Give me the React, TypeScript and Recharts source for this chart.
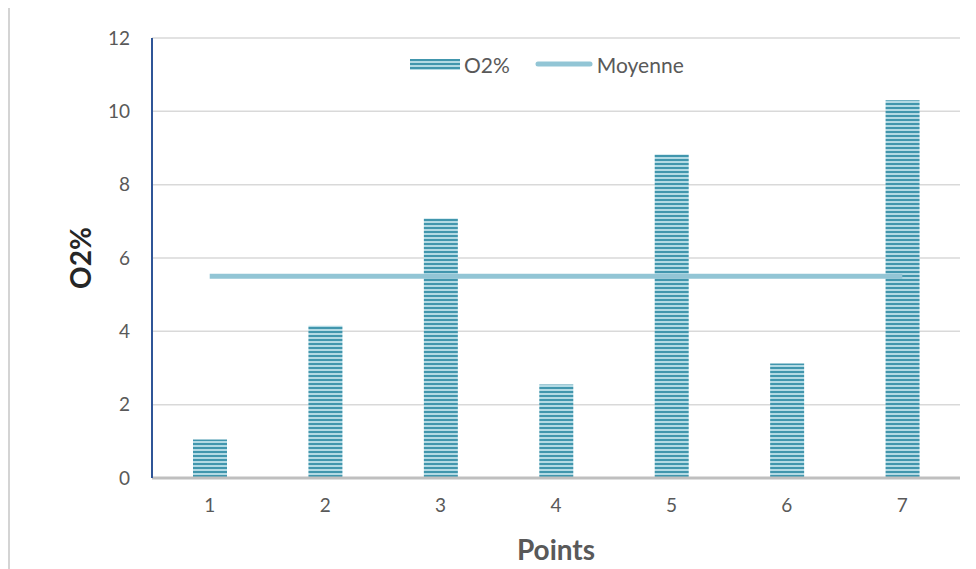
import React from 'react';
import { ComposedChart, Bar, Line, XAxis, YAxis, CartesianGrid, Label } from 'recharts';

const points = ['1', '2', '3', '4', '5', '6', '7'];
const o2Values = [1.05, 4.15, 7.08, 2.55, 8.82, 3.12, 10.3];
const moyenneValues = [5.5, 5.5, 5.5, 5.5, 5.5, 5.5, 5.5];
const yTicks = [0, 2, 4, 6, 8, 10, 12];

const data = points.map((p, i) => ({ point: p, o2: o2Values[i], moyenne: moyenneValues[i] }));

const FONT = 'Lato, "Open Sans", sans-serif';
const TEXT = '#595959';
const LINE_COLOR = '#92c5d5';

// legend drawn as plain html so it does not push the plot area down
const ChartLegend = () => (
  <div
    style={{
      position: 'absolute',
      left: 400,
      top: 44,
      height: 26,
      display: 'flex',
      alignItems: 'center',
      fontFamily: FONT,
      fontSize: 21,
      color: TEXT,
    }}
  >
    <svg width={50} height={11} style={{ marginRight: 4 }}>
      <rect x={0} y={0} width={50} height={11} fill="url(#stripes)" />
    </svg>
    <span style={{ marginRight: 25 }}>O2%</span>
    <svg width={58} height={8} style={{ marginRight: 4 }}>
      <line x1={3} y1={4} x2={55} y2={4} stroke={LINE_COLOR} strokeWidth={5} strokeLinecap="round" />
    </svg>
    <span>Moyenne</span>
  </div>
);

const App: React.FC = () => {
  return (
    <div
      style={{
        position: 'relative',
        top: -3,
        width: 966,
        height: 562,
        borderLeft: '2px solid #d4d4d4',
        borderTop: '2px solid #d4d4d4',
        background: '#fff',
      }}
    >
      <ComposedChart
        width={966}
        height={562}
        data={data}
        margin={{ top: 31, right: 16, left: 0, bottom: 0 }}
        barCategoryGap={0}
      >
        <defs>
          <pattern id="stripes" width={4} height={4} patternUnits="userSpaceOnUse">
            <rect x={0} y={0} width={4} height={4} fill="#b3dae4" />
            <rect x={0} y={0} width={4} height={2} fill="#4196ad" />
          </pattern>
        </defs>
        <CartesianGrid vertical={false} stroke="#d9d9d9" strokeWidth={1.5} />
        <XAxis
          dataKey="point"
          height={91}
          tickLine={false}
          tickSize={0}
          tickMargin={21}
          axisLine={{ stroke: '#bfbfbf', strokeWidth: 3 }}
          tick={{ fontSize: 19, fill: TEXT, fontFamily: FONT }}
        >
          <Label
            content={({ viewBox }: any) => (
              <text
                x={viewBox.x + viewBox.width / 2}
                y={viewBox.y + 82}
                textAnchor="middle"
                fontFamily={FONT}
                fontSize={28}
                fontWeight="bold"
                fill={TEXT}
              >
                Points
              </text>
            )}
          />
        </XAxis>
        <YAxis
          width={142}
          domain={[0, 12]}
          ticks={yTicks}
          tickLine={false}
          tickSize={0}
          tickMargin={22}
          axisLine={{ stroke: '#2f5597', strokeWidth: 2 }}
          tick={{ fontSize: 19, fill: TEXT, fontFamily: FONT }}
        >
          <Label
            content={({ viewBox }: any) => {
              const cx = 70;
              const cy = viewBox.y + viewBox.height / 2;
              return (
                <text
                  x={cx}
                  y={cy}
                  transform={`rotate(-90 ${cx} ${cy})`}
                  textAnchor="middle"
                  dominantBaseline="central"
                  fontFamily={FONT}
                  fontSize={28}
                  fontWeight="bold"
                  fill="#262626"
                >
                  O2%
                </text>
              );
            }}
          />
        </YAxis>
        <Bar dataKey="o2" name="O2%" barSize={34} fill="url(#stripes)" isAnimationActive={false} />
        <Line
          dataKey="moyenne"
          name="Moyenne"
          stroke={LINE_COLOR}
          strokeWidth={5}
          dot={false}
          activeDot={false}
          isAnimationActive={false}
        />
      </ComposedChart>
      <ChartLegend />
    </div>
  );
};

export default App;
